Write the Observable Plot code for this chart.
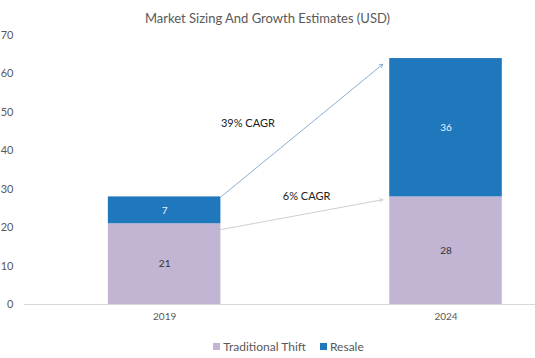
<!DOCTYPE html>
<html>
<head>
<meta charset="utf-8">
<script src="https://cdn.jsdelivr.net/npm/d3@7"></script>
<script src="https://cdn.jsdelivr.net/npm/@observablehq/plot@0.6"></script>
<style>
  html, body { margin: 0; padding: 0; background: #fff; }
  #wrap { position: relative; width: 535px; height: 358px; font-family: Lato, "Open Sans", sans-serif; }
  #title { position: absolute; left: 0; width: 535px; top: 10px; text-align: center; font-size: 13px; color: #595959; }
  #legend { position: absolute; left: 42px; width: 493px; top: 339px; display: flex; justify-content: center; align-items: center; font-size: 12px; color: #595959; }
  .sw { display: inline-block; width: 7px; height: 7px; margin-right: 3px; }
  .item { display: flex; align-items: center; margin: 0 7px; }
  #chart { position: absolute; left: 0; top: 0; }
</style>
</head>
<body>
<div id="wrap">
  <div id="chart"></div>
  <div id="title">Market Sizing And Growth Estimates (USD)</div>
  <div id="legend"></div>
</div>
<script>
const years = [2019, 2024];
const series = ["Traditional Thift", "Resale"];
const traditional = [21, 28];
const resale = [7, 36];
const colors = ["#c2b4d3", "#1f77bc"];
const labelColors = ["#333333", "#eef4ff"];
const yTicks = [0, 10, 20, 30, 40, 50, 60, 70];

const cagrLabels = ["39% CAGR", "6% CAGR"];
const cagrX1 = [2020, 2020];
const cagrX2 = [2023, 2023];
const cagrY1 = [28, 19.5];
const cagrY2 = [64, 27.6];
const cagrLabelX = [2020, 2021.1];
const cagrLabelY = [47, 28];

const rows = [];
years.forEach((yr, i) => {
  const vals = [traditional[i], resale[i]];
  let base = 0;
  vals.forEach((v, j) => {
    rows.push({year: yr, series: series[j], value: v, y1: base, y2: base + v, s: j});
    base += v;
  });
});
const arrows = cagrLabels.map((l, i) => ({label: l, x1: cagrX1[i], x2: cagrX2[i], y1: cagrY1[i], y2: cagrY2[i], lx: cagrLabelX[i], ly: cagrLabelY[i]}));

const chart = Plot.plot({
  width: 535,
  height: 358,
  marginLeft: 24,
  marginRight: 0,
  marginTop: 35,
  marginBottom: 54,
  style: {fontFamily: "Lato, 'Open Sans', sans-serif", background: "transparent"},
  x: {domain: [2016.51, 2025.59], ticks: years, tickFormat: d => String(d), tickSize: 0, tickPadding: 8, label: null},
  y: {domain: [0, 70], ticks: yTicks, tickSize: 0, tickPadding: 11, label: null},
  color: {domain: series, range: colors},
  marks: [
    Plot.axisY({ticks: yTicks, tickSize: 0, tickPadding: 11, fontSize: 11, color: "#595959", label: null}),
    Plot.axisX({ticks: years, tickFormat: d => String(d), tickSize: 0, tickPadding: 8, fontSize: 10, color: "#595959", label: null}),
    Plot.ruleY([0], {stroke: "#d9d9d9", strokeWidth: 1}),
    Plot.rect(rows, {x1: d => d.year - 1, x2: d => d.year + 1, y1: "y1", y2: "y2", fill: "series"}),
    Plot.text(rows, {x: "year", y: d => (d.y1 + d.y2) / 2, text: d => String(d.value), fill: d => labelColors[d.s], fontSize: 10}),
    Plot.arrow([arrows[0]], {x1: "x1", y1: "y1", x2: "x2", y2: "y2", stroke: "#7fa6cc", strokeWidth: 0.9, headLength: 6, insetEnd: 9}),
    Plot.arrow([arrows[1]], {x1: "x1", y1: "y1", x2: "x2", y2: "y2", stroke: "#c8c8c8", strokeWidth: 0.9, headLength: 6, insetEnd: 7}),
    Plot.text(arrows, {x: "lx", y: "ly", text: "label", textAnchor: "start", fill: "#222", fontSize: 11})
  ]
});
document.getElementById("chart").appendChild(chart);

const legend = document.getElementById("legend");
series.forEach((s, i) => {
  const it = document.createElement("span");
  it.className = "item";
  const sw = document.createElement("span");
  sw.className = "sw";
  sw.style.background = colors[i];
  it.appendChild(sw);
  it.appendChild(document.createTextNode(s));
  legend.appendChild(it);
});
</script>
</body>
</html>
